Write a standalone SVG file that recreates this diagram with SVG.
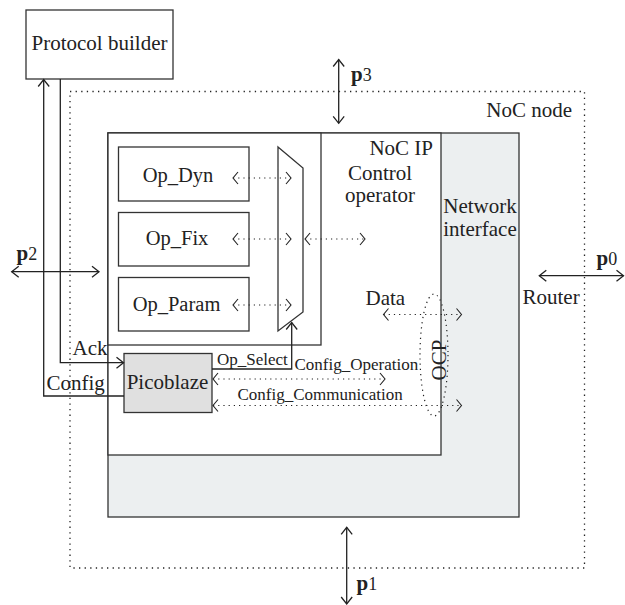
<svg xmlns="http://www.w3.org/2000/svg" width="625" height="605" viewBox="0 0 625 605" font-family="'Liberation Serif', 'DejaVu Serif', serif">
<style>
  text { font-family: 'Liberation Serif', 'DejaVu Serif', serif; fill: #222; font-size: 21px; }
  .sm { font-size: 17px; }
  .op { font-size: 20.5px; }
  .box { fill: #fff; stroke: #333; stroke-width: 1.3; }
  .gray { fill: #eceff0; stroke: #333; stroke-width: 1.3; }
  .pico { fill: #e0e0e0; stroke: #333; stroke-width: 1.3; }
  .solid { fill: none; stroke: #222; stroke-width: 1.3; }
  .dot { fill: none; stroke: #222; stroke-width: 1.2; stroke-dasharray: 1.2 4; }
  .border { fill: none; stroke: #222; stroke-width: 1.3; stroke-dasharray: 1.3 4.3; }
  .pb { font-weight: bold; }
  .pd { font-size: 18px; }
</style>
<defs>
  <marker id="ah" markerUnits="userSpaceOnUse" markerWidth="20" markerHeight="20" viewBox="-10 -10 20 20" refX="0" refY="0" orient="auto-start-reverse" overflow="visible">
    <path d="M-7,-5.5 L0,0 L-7,5.5" fill="none" stroke="#222" stroke-width="1.3"/>
  </marker>
  <marker id="ad" markerUnits="userSpaceOnUse" markerWidth="20" markerHeight="20" viewBox="-10 -10 20 20" refX="0" refY="0" orient="auto-start-reverse" overflow="visible">
    <path d="M-5,-6 L0,0 L-5,6" fill="none" stroke="#222" stroke-width="1.1"/>
  </marker>
</defs>

<g id="noc-node">
  <rect class="border" x="70" y="91.5" width="514.5" height="476.5"/>
  <text x="572" y="117" text-anchor="end">NoC node</text>
</g>

<g id="router">
  <rect class="gray" x="108" y="133" width="411" height="384"/>
  <text x="522.5" y="304">Router</text>
</g>

<g id="noc-ip">
  <rect class="box" x="108" y="133" width="333" height="322"/>
  <text x="433" y="154.5" text-anchor="end">NoC IP</text>
</g>

<g id="network-interface">
  <text x="480" y="213" text-anchor="middle" font-size="20">Network</text>
  <text x="480" y="235.5" text-anchor="middle" font-size="20">interface</text>
</g>

<g id="control-operator">
  <rect class="box" x="108" y="133" width="213" height="212"/>
  <text x="380" y="179.5" text-anchor="middle" font-size="20">Control</text>
  <text x="380" y="202" text-anchor="middle" font-size="20">operator</text>
</g>

<g id="op-dyn">
  <rect class="box" x="118.5" y="147" width="130.5" height="54"/>
  <text class="op" x="178" y="181.5" text-anchor="middle">Op_Dyn</text>
</g>
<g id="op-fix">
  <rect class="box" x="118.5" y="212.5" width="130.5" height="53.5"/>
  <text class="op" x="177" y="245" text-anchor="middle">Op_Fix</text>
</g>
<g id="op-param">
  <rect class="box" x="118.5" y="277.5" width="130.5" height="53.5"/>
  <text class="op" x="176.5" y="310.5" text-anchor="middle">Op_Param</text>
</g>

<g id="mux">
  <polygon class="box" points="278,147 303,168 303,312 278,331"/>
</g>

<g id="picoblaze">
  <rect class="pico" x="124" y="353.5" width="88" height="59"/>
  <text x="167.5" y="388.5" text-anchor="middle" font-size="20.5">Picoblaze</text>
</g>

<g id="protocol-builder">
  <rect class="box" x="26" y="10" width="147" height="69"/>
  <text x="99.5" y="50" text-anchor="middle">Protocol builder</text>
</g>

<g id="ocp">
  <ellipse class="dot" cx="434" cy="355" rx="14" ry="61"/>
  <text x="446" y="360" text-anchor="middle" transform="rotate(-90 446 360)" font-size="20">OCP</text>
</g>

<g id="connectors">
  <polyline class="solid" points="124,396 43.7,396 43.7,79.5" marker-end="url(#ah)"/>
  <polyline class="solid" points="60.3,79 60.3,362.7 123.5,362.7" marker-end="url(#ah)"/>
  <line class="dot" x1="233" y1="178" x2="291" y2="178" marker-start="url(#ad)" marker-end="url(#ad)"/>
  <line class="dot" x1="233" y1="239" x2="291" y2="239" marker-start="url(#ad)" marker-end="url(#ad)"/>
  <line class="dot" x1="233" y1="305" x2="291" y2="305" marker-start="url(#ad)" marker-end="url(#ad)"/>
  <line class="dot" x1="305" y1="239" x2="365" y2="239" marker-start="url(#ad)" marker-end="url(#ad)"/>
  <polyline class="solid" points="212,369 291.7,369 291.7,322.5" marker-end="url(#ah)"/>
  <line class="dot" x1="383.5" y1="314.5" x2="461.5" y2="314.5" marker-start="url(#ad)" marker-end="url(#ad)"/>
  <line class="dot" x1="213" y1="379" x2="385" y2="379" marker-start="url(#ad)" marker-end="url(#ad)"/>
  <line class="dot" x1="213" y1="405.5" x2="461.5" y2="405.5" marker-start="url(#ad)" marker-end="url(#ad)"/>
  <line class="solid" x1="338.7" y1="59.5" x2="338.7" y2="123.3" marker-start="url(#ah)" marker-end="url(#ah)"/>
  <line class="solid" x1="11.7" y1="271.7" x2="99" y2="271.7" marker-start="url(#ah)" marker-end="url(#ah)"/>
  <line class="solid" x1="539.3" y1="275.7" x2="623.5" y2="275.7" marker-start="url(#ah)" marker-end="url(#ah)"/>
  <line class="solid" x1="346.7" y1="527.3" x2="346.7" y2="604" marker-start="url(#ah)" marker-end="url(#ah)"/>
  <text x="72.5" y="355" font-size="20">Ack</text>
  <text x="46.5" y="390" font-size="20">Config</text>
  <text class="sm" x="217" y="364.5">Op_Select</text>
  <text class="sm" x="294.5" y="369.5">Config_Operation</text>
  <text class="sm" x="237.5" y="400">Config_Communication</text>
  <text x="365.5" y="304.5" font-size="20.5">Data</text>
  <text x="351" y="80.5"><tspan class="pb">p</tspan><tspan class="pd">3</tspan></text>
  <text x="16.5" y="259.5"><tspan class="pb">p</tspan><tspan class="pd">2</tspan></text>
  <text x="596.5" y="265"><tspan class="pb">p</tspan><tspan class="pd">0</tspan></text>
  <text x="356.5" y="590"><tspan class="pb">p</tspan><tspan class="pd">1</tspan></text>
</g>
</svg>
